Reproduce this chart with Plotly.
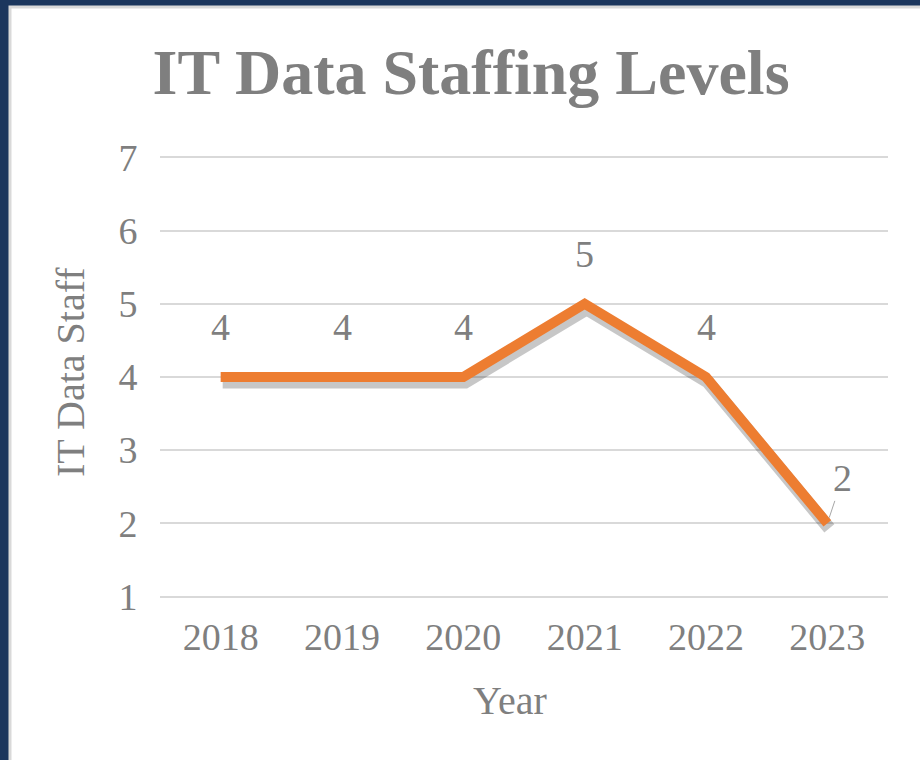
import plotly.graph_objects as go

# chart data
years = [2018, 2019, 2020, 2021, 2022, 2023]
staff = [4, 4, 4, 5, 4, 2]
y_ticks = [1, 2, 3, 4, 5, 6, 7]

orange = "#ED7D31"
gray_txt = "#7f7f7f"
grid = "#d9d9d9"
navy = "#1b365d"
serif = "Liberation Serif, Times New Roman, serif"

# plot area in pixels
L, R, T, B = 160, 32, 156, 162
W, H = 920, 760
pw, ph = W - L - R, H - T - B


def px(x):
    return (x - L) / pw


def py(y):
    return (H - B - y) / ph


e = 0.02  # tiny padding so the edge gridlines (1 and 7) are still drawn
x_rng = [years[0] - 0.5, years[-1] + 0.5]
y_rng = [y_ticks[0] - e, y_ticks[-1] + e]

fig = go.Figure()

# invisible copy on the base axes so the grid/ticks get drawn
fig.add_trace(go.Scatter(
    x=years, y=staff, mode="lines", line=dict(color="rgba(0,0,0,0)"),
    hoverinfo="skip", showlegend=False,
))
# soft drop shadow: same data on a slightly shifted overlay
dy = 5 * (y_rng[1] - y_rng[0]) / ph
dx = 2 * (x_rng[1] - x_rng[0]) / pw
fig.add_trace(go.Scatter(
    x=years, y=staff, mode="lines", xaxis="x2", yaxis="y2",
    line=dict(color="rgba(0,0,0,0.22)", width=13),
    hoverinfo="skip", showlegend=False,
))
fig.add_trace(go.Scatter(
    x=years, y=staff, mode="lines", xaxis="x3", yaxis="y3",
    line=dict(color=orange, width=10),
    showlegend=False,
))

lab_font = dict(family=serif, size=38, color=gray_txt)

# data labels
for yr, v in zip(years, staff):
    if yr == years[-1]:
        fig.add_annotation(
            x=yr, y=v, text=str(v), showarrow=True, ax=15, ay=-45,
            arrowhead=0, arrowwidth=1, arrowcolor="#a6a6a6", standoff=6,
            font=lab_font,
        )
    else:
        fig.add_annotation(x=yr, y=v, text=str(v), showarrow=False,
                           yshift=50, font=lab_font)

# axis titles
title_font = dict(family=serif, size=40, color=gray_txt)
fig.add_annotation(x=px(510), y=py(700), xref="paper", yref="paper",
                   xanchor="center", yanchor="middle",
                   text="Year", showarrow=False, font=title_font)
fig.add_annotation(x=px(70), y=py(372), xref="paper", yref="paper",
                   xanchor="center", yanchor="middle",
                   text="IT Data Staff", textangle=-90, showarrow=False,
                   font=title_font)

# white chart area inside the navy frame
fig.add_shape(
    type="rect", xref="paper", yref="paper", layer="below",
    x0=px(10), x1=px(W + 10), y0=py(H + 10), y1=py(7),
    fillcolor="white", line=dict(color=grid, width=3),
)

fig.update_layout(
    width=W, height=H,
    margin=dict(l=L, r=R, t=T, b=B, autoexpand=False),
    paper_bgcolor=navy, plot_bgcolor="white",
    title=dict(
        text="<b>IT Data Staffing Levels</b>",
        x=471 / W, xanchor="center", y=1 - 72 / H, yanchor="middle",
        font=dict(family=serif, size=64, color=gray_txt),
    ),
    font=dict(family=serif, color=gray_txt),
    xaxis=dict(
        range=x_rng, tickvals=years, ticktext=[str(y) for y in years],
        showgrid=False, zeroline=False, showline=False,
        ticks="outside", ticklen=5, tickcolor="rgba(0,0,0,0)",
        tickfont=lab_font,
    ),
    yaxis=dict(
        range=y_rng, tickvals=y_ticks, showgrid=True, gridcolor=grid,
        gridwidth=2, zeroline=False, showline=False,
        ticks="outside", ticklen=14, tickcolor="rgba(0,0,0,0)",
        tickfont=lab_font,
    ),
    xaxis2=dict(overlaying="x", range=[x_rng[0] - dx, x_rng[1] - dx],
                visible=False),
    yaxis2=dict(overlaying="y", range=[y_rng[0] + dy, y_rng[1] + dy],
                visible=False),
    xaxis3=dict(overlaying="x", range=x_rng, visible=False),
    yaxis3=dict(overlaying="y", range=y_rng, visible=False),
)

fig.write_html("out.html", config={"displayModeBar": False},
               post_script="document.body.style.margin='0';")
